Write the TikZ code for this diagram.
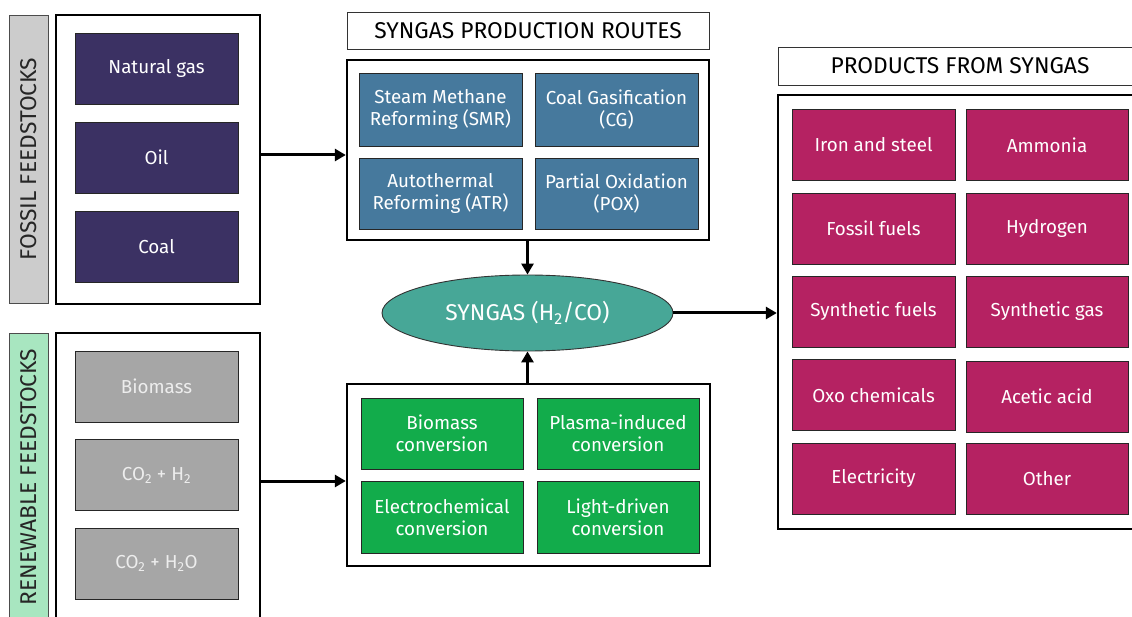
\documentclass[tikz,border=0pt]{standalone}
\usepackage{fontspec}
\setmainfont{Fira Sans}
\usetikzlibrary{shapes.geometric,arrows.meta}
\definecolor{fossilc}{HTML}{3B3163}
\definecolor{renewc}{HTML}{A6A6A6}
\definecolor{routec}{HTML}{46799D}
\definecolor{greenc}{HTML}{12AC4B}
\definecolor{prodc}{HTML}{B52262}
\definecolor{syngc}{HTML}{47A797}
\definecolor{labgray}{HTML}{CCCCCC}
\definecolor{labgreen}{HTML}{A8E6C0}
\begin{document}
\begin{tikzpicture}[x=1pt,y=-1pt,
  inbox/.style={draw=black!85,line width=0.9pt,text=white,align=center,
    font=\fontsize{18.8}{22}\selectfont,inner sep=1pt},
  fos/.style={inbox,fill=fossilc,minimum width=163,minimum height=71},
  ren/.style={inbox,fill=renewc,text=white!93!black,minimum width=163,minimum height=71},
  rte/.style={inbox,fill=routec,minimum width=163,minimum height=72},
  grn/.style={inbox,fill=greenc,minimum width=162,minimum height=71},
  prd/.style={inbox,fill=prodc,minimum height=71},
  outerbox/.style={draw=black,line width=2.4pt,fill=white},
  bigfont/.style={font=\fontsize{22.8}{26}\selectfont},
  titlebox/.style={draw=black!80,line width=0.9pt,fill=white,bigfont},
  sidelab/.style={draw=black!70,line width=0.9pt,text=black!85},
  arr/.style={line width=3pt,-{Triangle[length=11pt,width=12pt]}}
]
\path[use as bounding box,clip] (0,0) rectangle (1132,617);
\fill[white] (0,0) rectangle (1132,617);

% fossil
\node[sidelab,fill=labgray,minimum width=39,minimum height=288] (fl) at (28.5,159) {};
\node[rotate=90,bigfont,text=black!85] (flt) at (fl.center) {FOSSIL FEEDSTOCKS};
\node[outerbox,minimum width=204,minimum height=289] (fo) at (158,159.5) {};
\node[fos] (ng) at (156.5,68.5) {Natural gas};
\node[fos] (oil) at (156.5,157.5) {Oil};
\node[fos] (coal) at (156.5,247) {Coal};

% renewable
\node[sidelab,fill=labgreen,minimum width=39,minimum height=288] (rl) at (28.5,477) {};
\node[rotate=90,bigfont,text=black!85] (rlt) at (rl.center) {RENEWABLE FEEDSTOCKS};
\node[outerbox,minimum width=204,minimum height=297] (ro) at (158,481.5) {};
\node[ren] (bio) at (156.5,386.5) {Biomass};
\node[ren] (coh) at (156.5,475) {CO\textsubscript{2} + H\textsubscript{2}};
\node[ren] (cow) at (156.5,563.5) {CO\textsubscript{2} + H\textsubscript{2}O};

% routes
\node[titlebox,minimum width=362,minimum height=37] (rt) at (528,30.5) {SYNGAS PRODUCTION ROUTES};
\node[outerbox,minimum width=362,minimum height=180] (rb) at (528,150) {};
\node[rte,minimum height=73] (smr) at (440.5,109.5) {Steam Methane\\Reforming (SMR)};
\node[rte,minimum height=73] (cg) at (616.5,109.5) {Coal Gasification\\(CG)};
\node[rte,minimum height=71] (atr) at (440.5,193.5) {Autothermal\\Reforming (ATR)};
\node[rte,minimum height=71] (pox) at (616.5,193.5) {Partial Oxidation\\(POX)};

% syngas
\node[ellipse,draw=black!80,line width=0.9pt,fill=syngc,text=white,minimum width=291,minimum height=76,inner sep=0pt,
  bigfont] (sg) at (527.5,313) {SYNGAS (H\textsubscript{2}/CO)};

% renewable routes
\node[outerbox,minimum width=363,minimum height=182] (gb) at (528.5,475) {};
\node[grn] (bc) at (442,433.5) {Biomass\\conversion};
\node[grn] (pc) at (618,433.5) {Plasma-induced\\conversion};
\node[grn,minimum height=72] (ec) at (442,517) {Electrochemical\\conversion};
\node[grn,minimum height=72] (lc) at (618,517) {Light-driven\\conversion};

% products
\node[titlebox,minimum width=367,minimum height=38] (pt) at (961.5,66) {};
\node[bigfont] (ptt) at (960,66) {PRODUCTS FROM SYNGAS};
\node[outerbox,minimum width=367,minimum height=434] (pb) at (961.5,312) {};
\node[prd,minimum width=163] (p1) at (873.5,145) {Iron and steel};
\node[prd,minimum width=162] (p2) at (1047,145) {Ammonia};
\node[prd,minimum width=163] (p3) at (873.5,228.5) {Fossil fuels};
\node[prd,minimum width=162] (p4) at (1047,228.5) {Hydrogen};
\node[prd,minimum width=163] (p5) at (873.5,311.5) {Synthetic fuels};
\node[prd,minimum width=162] (p6) at (1047,311.5) {Synthetic gas};
\node[prd,minimum width=163] (p7) at (873.5,395) {Oxo chemicals};
\node[prd,minimum width=162] (p8) at (1047,396.5) {Acetic acid};
\node[prd,minimum width=163] (p9) at (873.5,478.5) {Electricity};
\node[prd,minimum width=162] (p10) at (1047,479) {Other};

% connectors
\draw[arr] (fo.east |- 0,155) -- (rb.west |- 0,155);
\draw[arr] (ro.east |- 0,481) -- (gb.west |- 0,481);
\draw[arr] (rb.south -| sg.north) -- (sg.north);
\draw[arr] (gb.north -| sg.south) -- (sg.south);
\draw[arr] (sg.east) -- (sg.east -| pb.west);
\end{tikzpicture}
\end{document}
